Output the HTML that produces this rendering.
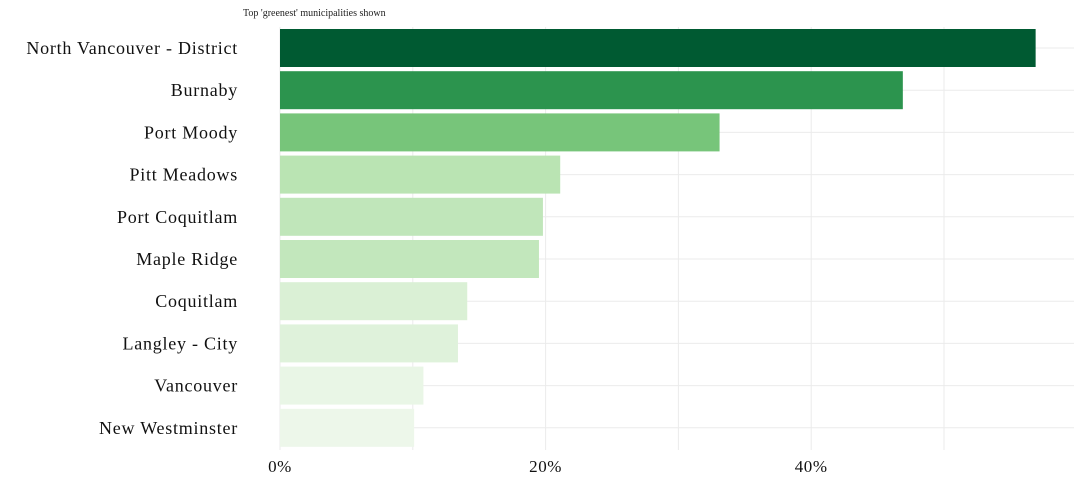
<!DOCTYPE html>
<html><head><meta charset="utf-8"><style>
body{margin:0;background:#fff;}
svg{display:block;font-family:"Liberation Serif","DejaVu Serif",serif;}
</style></head><body>
<svg id="chart" width="1080" height="504">
<text x="243" y="16" font-size="10" fill="#222">Top 'greenest' municipalities shown</text>
<g id="grid"></g><g id="bars"></g><g id="labels"></g><g id="ticks"></g>
</svg>
<script>
const categories=["North Vancouver - District","Burnaby","Port Moody","Pitt Meadows","Port Coquitlam","Maple Ridge","Coquitlam","Langley - City","Vancouver","New Westminster"];
const values=[56.9,46.9,33.1,21.1,19.8,19.5,14.1,13.4,10.8,10.1];
const colors=["#005a32","#2c944e","#77c57a","#bae4b3","#c0e6ba","#c2e7bc","#daf0d5","#dff2db","#e9f6e6","#edf7ea"];
const tickValues=[0,20,40];
const tickLabels=["0%","20%","40%"];
const minorTicks=[10,30,50];
const NS="http://www.w3.org/2000/svg";
const x0=280,pxPer=13.28;
const xs=v=>x0+v*pxPer;
const rowTop=27,rowStep=42.2,barH=38;
const ys=i=>rowTop+i*rowStep+2;
function mk(t,a,p){const e=document.createElementNS(NS,t);for(const k in a)e.setAttribute(k,a[k]);p.appendChild(e);return e;}
const grid=document.getElementById('grid');
minorTicks.concat(tickValues).forEach(v=>{
  const l=mk('line',{x1:xs(v),x2:xs(v),y1:27,y2:450,stroke:'#ebebeb','stroke-width':1},grid);
  
  
});
categories.forEach((c,i)=>{
  const l=mk('line',{x1:280,x2:1074,y1:ys(i)+barH/2,y2:ys(i)+barH/2,stroke:'#ebebeb','stroke-width':1},grid);
  
  
});
const bars=document.getElementById('bars'),labels=document.getElementById('labels');
categories.forEach((c,i)=>{
  const r=mk('rect',{x:xs(0),y:ys(i),width:xs(values[i])-xs(0),height:barH,fill:colors[i]},bars);
  
  
  const t=mk('text',{x:238,y:ys(i)+barH/2+6,'text-anchor':'end','font-size':18,fill:'#111','letter-spacing':'0.75'},labels);
  t.textContent=c;
  
  
});
const ticks=document.getElementById('ticks');
tickValues.forEach((v,i)=>{
  const t=mk('text',{x:xs(v),y:472,'text-anchor':'middle','font-size':17,fill:'#111','letter-spacing':'0.6'},ticks);
  t.textContent=tickLabels[i];
  
  
});
</script>
</body></html>
